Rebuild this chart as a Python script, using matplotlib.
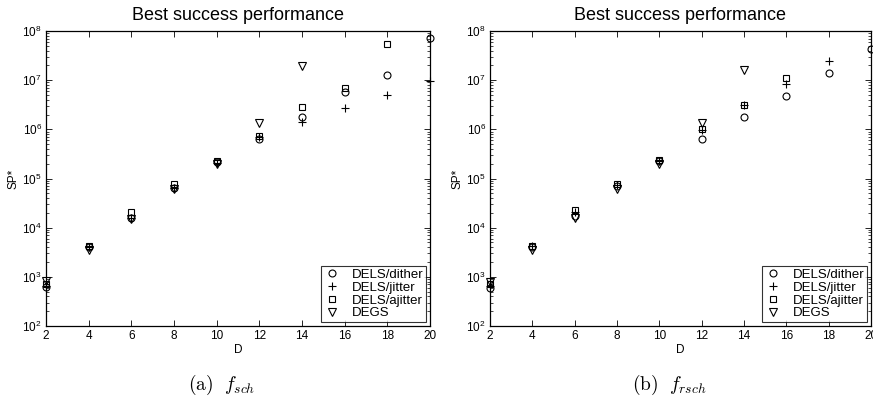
import matplotlib
matplotlib.use("Agg")
import matplotlib.pyplot as plt
import numpy as np
from matplotlib.ticker import LogLocator, NullFormatter

plt.rcParams['font.family'] = ['Liberation Sans', 'DejaVu Sans']
plt.rcParams['mathtext.fontset'] = 'cm'

series_names = ["DELS/dither", "DELS/jitter", "DELS/ajitter", "DEGS"]

# (a) f_sch
sch_dither_D = [2, 4, 6, 8, 10, 12, 14, 16, 18, 20]
sch_dither = [630, 4000, 16000, 65000, 220000, 650000, 1.75e6, 5.7e6, 1.28e7, 7.3e7]
sch_jitter_D = [2, 4, 6, 8, 10, 12, 14, 16, 18, 20]
sch_jitter = [660, 4100, 15500, 65000, 210000, 700000, 1.38e6, 2.7e6, 5.0e6, 9.8e6]
sch_ajitter_D = [2, 4, 6, 8, 10, 12, 14, 16, 18]
sch_ajitter = [720, 4300, 21000, 76000, 225000, 720000, 2.8e6, 6.8e6, 5.4e7]
sch_degs_D = [2, 4, 6, 8, 10, 12, 14]
sch_degs = [830, 3500, 15000, 62000, 195000, 1.33e6, 1.9e7]

# (b) f_rsch
rsch_dither_D = [2, 4, 6, 8, 10, 12, 14, 16, 18, 20]
rsch_dither = [600, 4000, 17000, 70000, 230000, 650000, 1.8e6, 4.7e6, 1.38e7, 4.4e7]
rsch_jitter_D = [2, 4, 6, 8, 10, 12, 14, 16, 18]
rsch_jitter = [650, 4200, 21000, 75000, 230000, 950000, 3.1e6, 8.3e6, 2.4e7]
rsch_ajitter_D = [2, 4, 6, 8, 10, 12, 14, 16]
rsch_ajitter = [700, 4300, 23000, 78000, 240000, 1.0e6, 3.1e6, 1.1e7]
rsch_degs_D = [2, 4, 6, 8, 10, 12, 14]
rsch_degs = [800, 3500, 16000, 60000, 195000, 1.37e6, 1.6e7]

x_ticks = [2, 4, 6, 8, 10, 12, 14, 16, 18, 20]
title_text = "Best success performance"
xlabel_text = "D"
ylabel_text = "SP*"
captions = [r"$\mathrm{(a)}\ \ f_{sch}$", r"$\mathrm{(b)}\ \ f_{rsch}$"]

styles = [dict(marker='o', ms=5.0), dict(marker='+', ms=6.0),
          dict(marker='s', ms=4.3), dict(marker='v', ms=5.5)]

fig = plt.figure(figsize=(8.73, 4.0), dpi=100)
ax1 = fig.add_axes([46/873, 74/400, 384/873, 295/400])
ax2 = fig.add_axes([490/873, 74/400, 381/873, 295/400])

panels = [
    (ax1, [(sch_dither_D, sch_dither), (sch_jitter_D, sch_jitter),
           (sch_ajitter_D, sch_ajitter), (sch_degs_D, sch_degs)]),
    (ax2, [(rsch_dither_D, rsch_dither), (rsch_jitter_D, rsch_jitter),
           (rsch_ajitter_D, rsch_ajitter), (rsch_degs_D, rsch_degs)]),
]

for ax, data in panels:
    for (xd, yd), name, st in zip(data, series_names, styles):
        ax.plot(xd, yd, linestyle='none', marker=st['marker'], ms=st['ms'],
                mfc='none', mec='black', mew=0.8, color='black', label=name,
                clip_on=False)
    ax.set_yscale('log')
    ax.set_xlim(2, 20)
    ax.set_ylim(1e2, 1e8)
    ax.set_xticks(x_ticks)
    ax.set_xticklabels([str(t) for t in x_ticks])
    ax.yaxis.set_major_locator(LogLocator(base=10, numticks=10))
    ax.yaxis.set_minor_locator(LogLocator(base=10, subs=np.arange(2, 10), numticks=10))
    ax.yaxis.set_minor_formatter(NullFormatter())
    ax.tick_params(which='both', direction='in', top=True, right=True, labelsize=8.5, pad=3)
    ax.tick_params(which='major', length=4, width=0.6)
    ax.tick_params(which='minor', length=2, width=0.5)
    for s in ax.spines.values():
        s.set_linewidth(0.9)
    ax.set_title(title_text, fontsize=13, pad=8)
    ax.set_xlabel(xlabel_text, fontsize=8.5, labelpad=1)
    ax.set_ylabel(ylabel_text, fontsize=8.5, labelpad=2)
    leg = ax.legend(loc='lower right', fontsize=9.5, frameon=True, fancybox=False,
                    edgecolor='black', handlelength=1.2, handletextpad=0.9,
                    borderpad=0.2, labelspacing=0.05, borderaxespad=0.3,
                    numpoints=1)
    leg.get_frame().set_linewidth(0.8)

fig.text(222/873, 1 - 385/400, captions[0], ha='center', va='center', fontsize=14)
fig.text(669/873, 1 - 385/400, captions[1], ha='center', va='center', fontsize=14)

fig.savefig("out.png", dpi=100)
